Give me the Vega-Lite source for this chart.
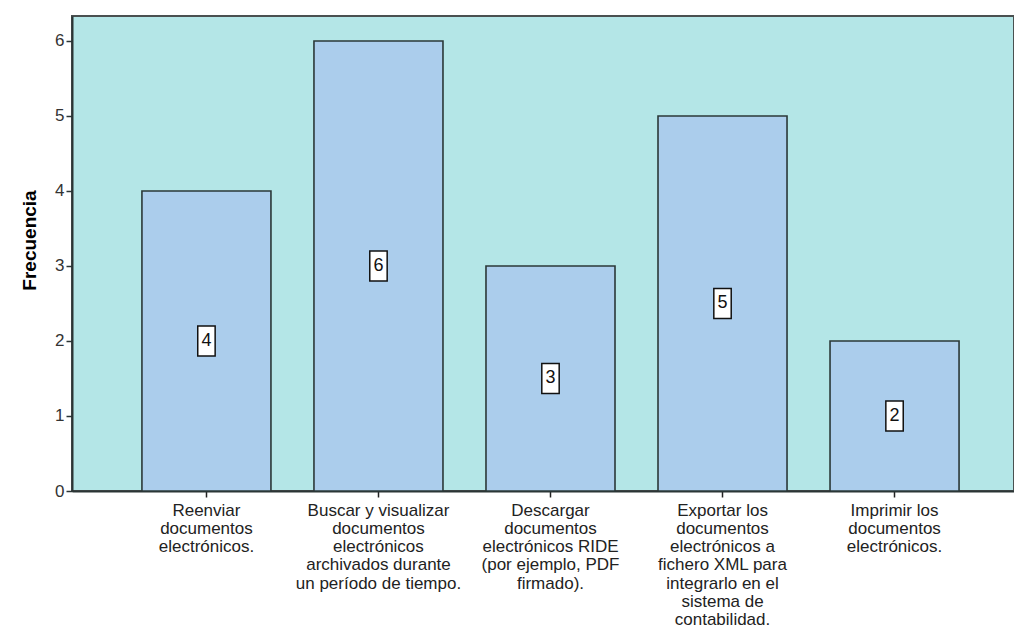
{
  "$schema": "https://vega.github.io/schema/vega-lite/v6.json",
  "autosize": "none",
  "width": 942,
  "height": 475,
  "padding": {"left": 72, "top": 16, "right": 0, "bottom": 137},
  "background": "white",
  "config": {
    "view": {"fill": "#b4e6e7", "stroke": "#4a5050", "strokeWidth": 2},
    "font": "Liberation Sans"
  },
  "data": {
    "values": [
      {"cat": "Reenviar|documentos|electrónicos.", "Frecuencia": 4},
      {"cat": "Buscar y visualizar|documentos|electrónicos|archivados durante|un período de tiempo.", "Frecuencia": 6},
      {"cat": "Descargar|documentos|electrónicos RIDE|(por ejemplo, PDF|firmado).", "Frecuencia": 3},
      {"cat": "Exportar los|documentos|electrónicos a|fichero XML para|integrarlo en el|sistema de|contabilidad.", "Frecuencia": 5},
      {"cat": "Imprimir los|documentos|electrónicos.", "Frecuencia": 2}
    ]
  },
  "transform": [{"calculate": "datum.Frecuencia / 2", "as": "mid"}],
  "encoding": {
    "x": {
      "field": "cat",
      "type": "nominal",
      "sort": null,
      "scale": {"paddingInner": 0.25, "paddingOuter": 0.363, "align": 0.56},
      "axis": {
        "title": null,
        "labelAngle": 0,
        "labelExpr": "split(datum.label, '|')",
        "labelLimit": 0,
        "labelFontSize": 17,
        "labelLineHeight": 18.3,
        "labelColor": "#222",
        "labelPadding": 5,
        "tickSize": 6,
        "tickColor": "#222",
        "tickWidth": 1.5,
        "domainColor": "#2b3535",
        "domainWidth": 2
      }
    }
  },
  "layer": [
    {
      "mark": {"type": "bar", "fill": "#abcdec", "stroke": "#2b3838", "strokeWidth": 1.6},
      "encoding": {
        "y": {
          "field": "Frecuencia",
          "type": "quantitative",
          "scale": {"domain": [0, 6.333], "nice": false},
          "axis": {
            "title": "Frecuencia",
            "titleFontSize": 19,
            "titleFontWeight": "bold",
            "titleColor": "#000",
            "titlePadding": 15,
            "titleY": 224,
            "values": [0, 1, 2, 3, 4, 5, 6],
            "format": "d",
            "grid": false,
            "labelFontSize": 17,
            "labelColor": "#333",
            "labelPadding": 2,
            "tickSize": 6,
            "tickColor": "#2b3535",
            "tickWidth": 1.5,
            "domainColor": "#2b3535",
            "domainWidth": 2
          }
        }
      }
    },
    {
      "mark": {"type": "point", "shape": "M-0.58,-1H0.58V1H-0.58Z", "filled": true, "fill": "white", "stroke": "#111", "strokeWidth": 1.5, "size": 900, "opacity": 1},
      "encoding": {
        "y": {"field": "mid", "type": "quantitative"}
      }
    },
    {
      "mark": {"type": "text", "fontSize": 18, "color": "#111", "baseline": "middle", "align": "center"},
      "encoding": {
        "y": {"field": "mid", "type": "quantitative"},
        "text": {"field": "Frecuencia", "type": "quantitative"}
      }
    }
  ]
}
